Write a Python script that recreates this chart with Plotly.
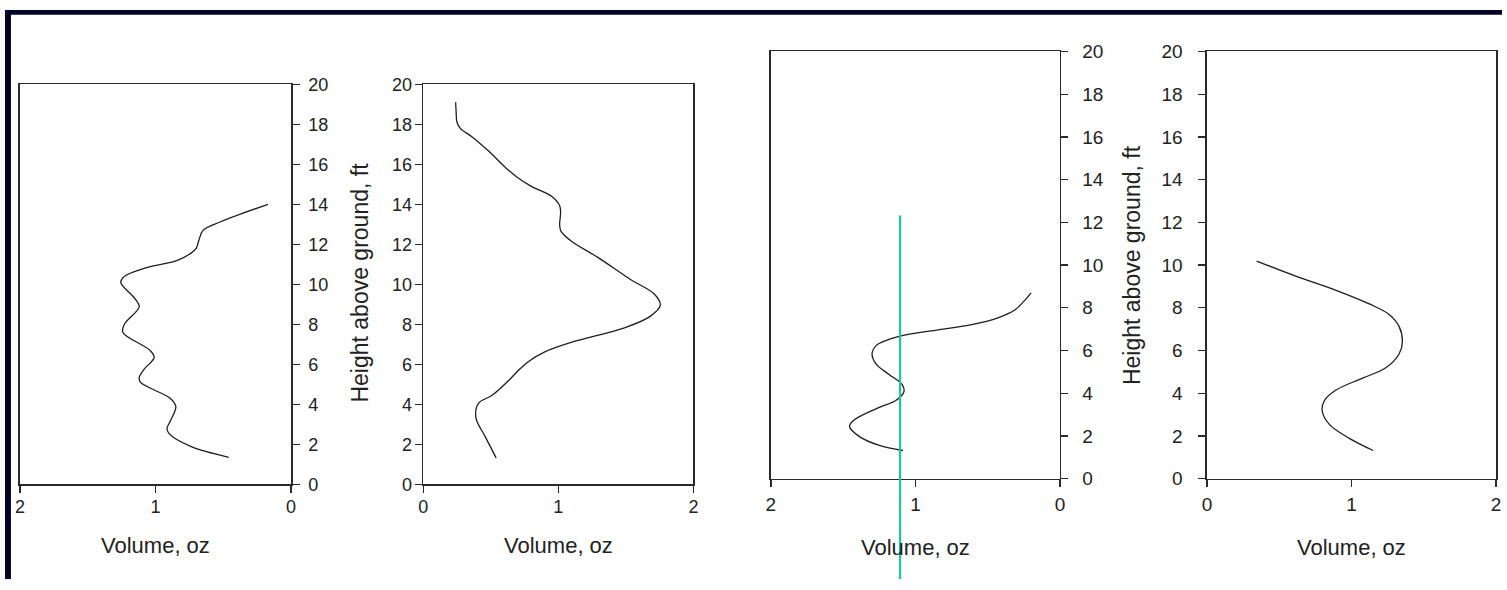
import plotly.graph_objects as go

W, H = 1507, 590

# ---------------- data (Volume, oz  vs  Height above ground, ft) ----------------
p1_vol = [0.46, 0.74, 0.90, 0.915, 0.89, 0.85, 0.89, 1.11, 1.12, 1.085, 1.01, 1.04,
          1.24, 1.23, 1.12, 1.15, 1.256, 1.23, 1.085, 0.84, 0.74, 0.70, 0.68, 0.65, 0.52, 0.17]
p1_ht = [1.36, 1.9, 2.54, 2.8, 3.18, 3.9, 4.3, 5.1, 5.35, 5.75, 6.35, 6.7,
         7.6, 8.0, 8.88, 9.28, 10.1, 10.4, 10.8, 11.2, 11.55, 11.8, 12.2, 12.7, 13.13, 14.0]

p2_vol = [0.54, 0.46, 0.39, 0.41, 0.51, 0.63, 0.70, 0.78, 0.90, 1.095, 1.49, 1.68, 1.755,
          1.71, 1.535, 1.29, 1.095, 1.02, 1.01, 1.017, 1.01, 0.95, 0.80, 0.69, 0.606, 0.484,
          0.36, 0.276, 0.25, 0.244, 0.24]
p2_ht = [1.33, 2.38, 3.34, 4.06, 4.46, 5.18, 5.67, 6.15, 6.63, 7.1, 7.83, 8.4, 8.96,
         9.52, 10.24, 11.36, 12.17, 12.65, 12.97, 13.6, 13.93, 14.4, 14.9, 15.38, 15.86, 16.66,
         17.38, 17.78, 18.1, 18.59, 19.1]

p3_vol = [1.086, 1.25, 1.387, 1.456, 1.42, 1.25, 1.136, 1.08, 1.09, 1.18, 1.27, 1.30,
          1.27, 1.20, 1.067, 0.84, 0.61, 0.43, 0.313, 0.25, 0.20]
p3_ht = [1.32, 1.56, 1.97, 2.45, 2.77, 3.34, 3.66, 4.06, 4.39, 4.87, 5.35, 5.84,
         6.24, 6.48, 6.73, 6.97, 7.21, 7.53, 7.9, 8.3, 8.7]

p4_vol = [1.15, 0.985, 0.848, 0.797, 0.813, 0.893, 1.077, 1.237, 1.329, 1.352, 1.329,
          1.26, 1.123, 0.893, 0.619, 0.344]
p4_ht = [1.32, 1.89, 2.53, 3.18, 3.66, 4.15, 4.71, 5.19, 5.84, 6.4, 7.13,
         7.69, 8.18, 8.82, 9.47, 10.19]

x_ticks = [0, 1, 2]
y_ticks = [0, 2, 4, 6, 8, 10, 12, 14, 16, 18, 20]
x_title = "Volume, oz"
y_title = "Height above ground, ft"

# green marker line in panel 3 (volume value, top pixel row)
marker_vol = 1.106
marker_top_px = 213

# ---------------- geometry (pixels) ----------------
def px_x(a, b):
    return [a / W, b / W]

def px_y(top, bottom):
    return [1 - bottom / H, 1 - top / H]

panels = [
    dict(xd=px_x(15, 288), yd=px_y(77, 492), xrev=True, yside="right", tick=18, xstand=-2, ystand=5),
    dict(xd=px_x(421, 693), yd=px_y(77, 492), xrev=False, yside="left", tick=18, xstand=-2, ystand=-1),
    dict(xd=px_x(771, 1062), yd=px_y(43, 486), xrev=True, yside="right", tick=19, xstand=1, ystand=10),
    dict(xd=px_x(1210, 1501), yd=px_y(43, 486), xrev=False, yside="left", tick=19, xstand=1, ystand=12),
]
data = [(p1_vol, p1_ht), (p2_vol, p2_ht), (p3_vol, p3_ht), (p4_vol, p4_ht)]

FONT = "Liberation Sans, Arial, sans-serif"
AX = "#2a2a2a"
TXT = "#222222"

fig = go.Figure()
layout = dict(
    width=W, height=H,
    margin=dict(l=0, r=0, t=0, b=0),
    paper_bgcolor="white", plot_bgcolor="white",
    showlegend=False,
    font=dict(family=FONT, color=TXT),
)

for i, (p, (vx, vy)) in enumerate(zip(panels, data), start=1):
    sx = "" if i == 1 else str(i)
    fig.add_trace(go.Scatter(
        x=vx, y=vy, mode="lines",
        line=dict(color="#1e1e1e", width=1.3, shape="spline", smoothing=1.0),
        xaxis="x" + sx, yaxis="y" + sx, hoverinfo="skip",
    ))
    layout["xaxis" + sx] = dict(
        domain=p["xd"], anchor="y" + sx,
        range=[2, 0] if p["xrev"] else [0, 2],
        tickvals=x_ticks, ticktext=[str(t) for t in x_ticks],
        ticks="outside", ticklen=7, tickwidth=1.3, tickcolor=AX,
        showline=True, linecolor=AX, linewidth=1.5, mirror=True,
        showgrid=False, zeroline=False, fixedrange=True,
        tickfont=dict(size=p["tick"], family=FONT, color=TXT),
        ticklabelstandoff=p["xstand"],
    )
    layout["yaxis" + sx] = dict(
        domain=p["yd"], anchor="x" + sx, side=p["yside"],
        range=[0, 20], tickvals=y_ticks,
        ticks="outside", ticklen=7, tickwidth=1.3, tickcolor=AX,
        showline=True, linecolor=AX, linewidth=1.5, mirror=True,
        showgrid=False, zeroline=False, fixedrange=True,
        tickfont=dict(size=p["tick"], family=FONT, color=TXT),
        ticklabelstandoff=p["ystand"],
    )

ann = []
for cx, cy in [(151.5, 555), (557, 555), (916.5, 557), (1355.5, 557)]:
    ann.append(dict(text=x_title, x=cx / W, y=1 - cy / H, xref="paper", yref="paper",
                    xanchor="center", yanchor="middle", showarrow=False,
                    font=dict(size=22, family=FONT, color=TXT)))
for cx, cy in [(357, 283), (1134, 264)]:
    ann.append(dict(text=y_title, x=cx / W, y=1 - cy / H, xref="paper", yref="paper",
                    xanchor="center", yanchor="middle", showarrow=False, textangle=-90,
                    font=dict(size=23, family=FONT, color=TXT)))
layout["annotations"] = ann

shapes = [
    dict(type="rect", xref="paper", yref="paper", x0=0, x1=1, y0=1 - 5 / H, y1=1,
         fillcolor="#03032a", line=dict(width=0), layer="above"),
    dict(type="rect", xref="paper", yref="paper", x0=0, x1=6 / W, y0=0, y1=1,
         fillcolor="#03032a", line=dict(width=0), layer="above"),
    dict(type="line", xref="x3", yref="paper", x0=marker_vol, x1=marker_vol,
         y0=0, y1=1 - marker_top_px / H, line=dict(color="#1fc995", width=2.2), layer="above"),
]
layout["shapes"] = shapes

fig.update_layout(**layout)
fig.write_html(
    "out.html",
    config={"displayModeBar": False, "staticPlot": True},
    post_script="document.body.style.margin='0';document.body.style.padding='0';"
                "document.body.style.overflow='hidden';",
)
